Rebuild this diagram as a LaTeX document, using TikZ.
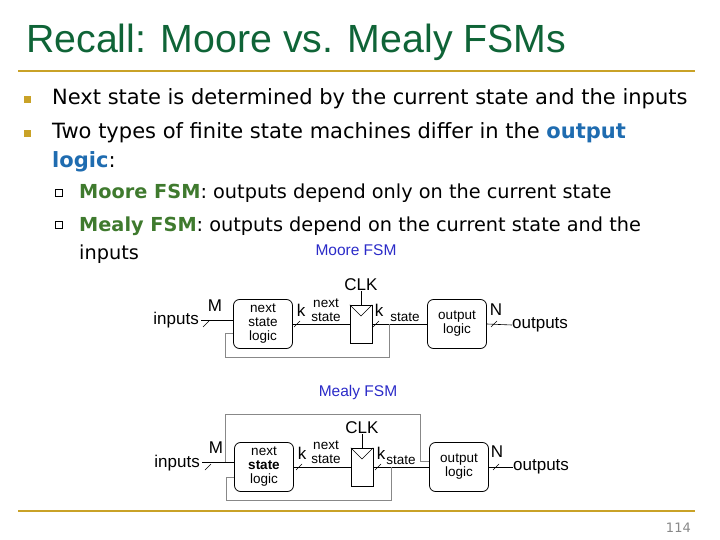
\documentclass[tikz,border=0pt]{standalone}
\usepackage{fontspec}
\setmainfont{DejaVu Sans}
\newfontfamily\arial{Liberation Sans}
\definecolor{ttl}{HTML}{0F6437}
\definecolor{gold}{HTML}{C9A227}
\definecolor{blu}{HTML}{1F6CB0}
\definecolor{grn}{HTML}{3F7A2E}
\definecolor{cap}{HTML}{2B2BC8}
\definecolor{fb}{HTML}{888888}
\begin{document}
\begin{tikzpicture}[x=1pt,y=-1pt,
 blk/.style={draw,thick,rounded corners=6pt,minimum width=59pt,minimum height=49pt,align=center,font=\arial\fontsize{13.5}{14}\selectfont,inner sep=1pt},
 reg/.style={draw,minimum width=22pt,minimum height=38pt,inner sep=0pt},
 lbl/.style={font=\arial\fontsize{17}{18}\selectfont,inner sep=0pt},
 sm/.style={font=\arial\fontsize{13.5}{14}\selectfont,inner sep=0pt,align=center},
 fbw/.style={draw=fb,line width=0.8pt},
 wire/.style={draw,line width=0.6pt}]
\useasboundingbox (0,0) rectangle (720,540);
\node[anchor=base west,text=ttl,font=\arial\fontsize{39.3}{42}\selectfont,inner sep=0pt] (title) at (26,53) {Recall: Moore vs. Mealy FSMs};
\draw[gold,line width=2.5pt] (18,71) -- (695,71);
\draw[gold,line width=2.5pt] (18,511) -- (695,511);
\node[anchor=base east,text=fb,font=\fontsize{13}{14}\selectfont,inner sep=0pt] (pg) at (691,532) {114};
% bullets
\foreach \y/\n in {98/b1,132/b2} \fill[gold] (24,\y+5) rectangle ++(7,-7);
\begin{scope}[every node/.style={anchor=base west,inner sep=0pt,font=\fontsize{21}{24}\selectfont}]
\node (t1) at (52,105) {Next state is determined by the current state and the inputs};
\node (t2) at (52,139) {Two types of finite state machines differ in the \textcolor{blu}{\bfseries output}};
\node (t3) at (52,168) {\textcolor{blu}{\bfseries logic}:};
\end{scope}
\foreach \y in {191,223} \draw[line width=0.6pt] (55,\y+5) rectangle ++(7,-7);
\begin{scope}[every node/.style={anchor=base west,inner sep=0pt,font=\fontsize{19.3}{22}\selectfont}]
\node (s1) at (79,199) {\textcolor{grn}{\bfseries Moore FSM}: outputs depend only on the current state};
\node (s2) at (79,231) {\textcolor{grn}{\bfseries Mealy FSM}: outputs depend on the current state and the};
\node (s3) at (79,259) {inputs};
\end{scope}
% ---- Moore
\node[text=cap,font=\arial\fontsize{15.5}{16}\selectfont] (moore) at (356,250) {Moore FSM};
\node[blk] (ns1) at (263,324) {next\\state\\logic};
\node[reg] (r1) at (361,324) {};
\draw (r1.north west) -- (361,316) -- (r1.north east);
\node[blk] (ol1) at (457,324) {output\\logic};
\node[lbl,anchor=east] (in1) at (199,320) {inputs};
\node[lbl,anchor=west] (out1) at (512,325) {outputs};
\coordinate (i1) at (201,320);
\draw[wire] (i1) -- (ns1.west|-i1);
\draw[wire] (ns1.east) -- (r1.west);
\draw[wire] (r1.east) -- (ol1.west);
\draw[wire] (ol1.east) -- (out1.west);
\node[lbl] (clk1) at (361,285) {CLK};
\draw[wire] (clk1.south) -- (r1.north);
\node[lbl] (m1) at (215,306) {M};
\node[lbl] (k1) at (301,310) {k};
\node[lbl] (k1b) at (379,310) {k};
\node[lbl] (n1) at (496,310) {N};
\node[sm] (nsl1) at (326,310) {next\\state};
\node[sm] (st1) at (405,317) {state};
\foreach \x in {206,297,376,494} \draw (\x-3,327) -- (\x+3,321);
\draw[fbw] (389,324) -- (389,357) -- (225,357) -- (225,333) -- (ns1.west|-0,333);
% ---- Mealy
\node[text=cap,font=\arial\fontsize{15.5}{16}\selectfont] (mealy) at (358,392) {Mealy FSM};
\node[blk] (ns2) at (264,467) {next\\{\bfseries state}\\logic};
\node[reg] (r2) at (362,467) {};
\draw (r2.north west) -- (362,459) -- (r2.north east);
\node[blk] (ol2) at (459,467) {output\\logic};
\node[lbl,anchor=east] (in2) at (200,463) {inputs};
\node[lbl,anchor=west] (out2) at (513,467) {outputs};
\coordinate (i2) at (202,462);
\draw[wire] (i2) -- (ns2.west|-i2);
\draw[wire] (ns2.east) -- (r2.west);
\draw[wire] (r2.east) -- (ol2.west);
\draw[wire] (ol2.east) -- (out2.west);
\node[lbl] (clk2) at (362,428) {CLK};
\draw[wire] (clk2.south) -- (r2.north);
\node[lbl] (m2) at (216,448) {M};
\node[lbl] (k2) at (302,453) {k};
\node[lbl] (k2b) at (381,453) {k};
\node[lbl] (n2) at (497,452) {N};
\node[sm] (nsl2) at (326,452) {next\\state};
\node[sm] (st2) at (401,460) {state};
\foreach \x in {208,299,378,496} \draw (\x-3,470) -- (\x+3,464);
\draw[fbw] (391,467) -- (391,500) -- (226,500) -- (226,477) -- (ns2.west|-0,477);
\draw[fbw] (225,462) -- (225,414) -- (420,414) -- (420,461) -- (ol2.west|-0,461);
\end{tikzpicture}
\end{document}
